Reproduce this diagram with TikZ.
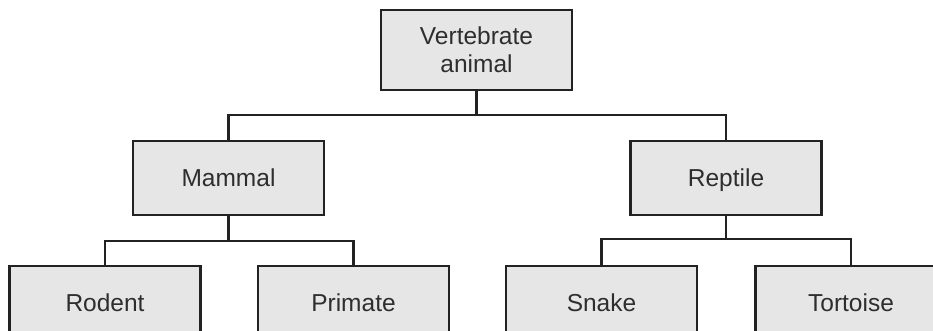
\documentclass[tikz,border=0pt]{standalone}
\usepackage{fontspec}
\setmainfont{Liberation Sans}
\definecolor{boxfill}{HTML}{E6E6E6}
\definecolor{linec}{HTML}{222222}
\definecolor{textc}{HTML}{2E2E2E}
\begin{document}
\begin{tikzpicture}[x=1pt,y=-1pt,
  box/.style={draw=linec, line width=2.6pt, fill=boxfill, text=textc,
    minimum width=191pt, minimum height=74pt, inner sep=0pt, align=center,
    font=\fontsize{24.5}{28}\selectfont},
  onebox/.style={box, text height=17.6pt, text depth=0pt},
  conn/.style={draw=linec, line width=2.2pt}]
\useasboundingbox (0,0) rectangle (933,331);
\clip (0,0) rectangle (933,331);
\fill[white] (0,0) rectangle (933,331);
\node[box, minimum height=80pt] (top) at (476.5,50) {Vertebrate\\animal};
\node[onebox] (mammal) at (228.5,178) {Mammal};
\node[onebox] (reptile) at (726,178) {Reptile};
\node[onebox] (rodent) at (105,303) {Rodent};
\node[onebox] (primate) at (353.5,303) {Primate};
\node[onebox] (snake) at (601.5,303) {Snake};
\node[onebox] (tortoise) at (851,303) {Tortoise};
\coordinate (b1) at (476.5,115);
\coordinate (b2) at (228.5,241);
\coordinate (b3) at (726,239);
\draw[conn] (top.south) -- (b1) -| (mammal.north);
\draw[conn] (b1) -| (reptile.north);
\draw[conn] (mammal.south) -- (b2) -| (rodent.north);
\draw[conn] (b2) -| (primate.north);
\draw[conn] (reptile.south) -- (b3) -| (snake.north);
\draw[conn] (b3) -| (tortoise.north);
\end{tikzpicture}
\end{document}
